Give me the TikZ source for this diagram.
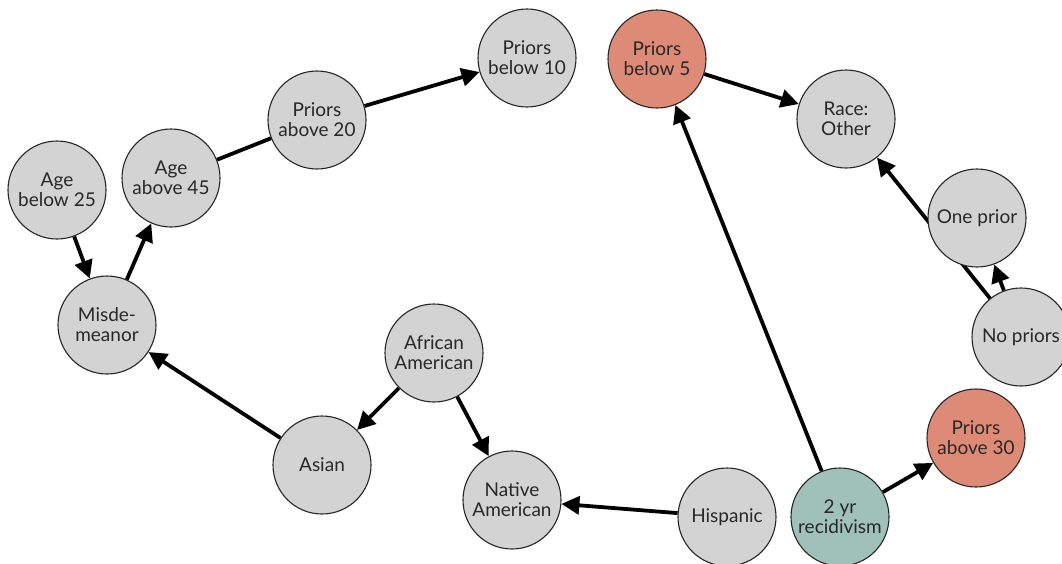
\documentclass[tikz,border=0pt]{standalone}
\usepackage{fontspec}
\setmainfont{Lato}
\usetikzlibrary{arrows.meta,backgrounds}
\definecolor{nodegray}{RGB}{211,211,211}
\definecolor{salmon}{RGB}{221,138,119}
\definecolor{tealish}{RGB}{160,193,186}
\definecolor{txt}{RGB}{40,40,40}
\begin{document}
\begin{tikzpicture}[x=1pt,y=1pt,
  var/.style={circle,draw=black!85,line width=1.1pt,fill=nodegray,minimum size=98pt,inner sep=0pt,
    align=center,text=txt,font=\fontsize{19}{20}\selectfont},
  hot/.style={var,fill=salmon},
  target/.style={var,fill=tealish},
  edge/.style={line width=3.8pt,black},
  arr/.style={edge,-{Triangle[length=18pt,width=18pt]}}]
\useasboundingbox (0,0) rectangle (1062,-563);
\clip (0,0) rectangle (1062,-563);
\node[var] (p10) at (527,-58) {Priors\\below 10};
\node[hot] (p5) at (657,-59) {Priors\\below 5};
\node[var] (p20) at (317,-120) {Priors\\above 20};
\node[var] (ro) at (846,-119) {Race:\\Other};
\node[var] (a45) at (171,-178) {Age\\above 45};
\node[var] (a25) at (57,-190) {Age\\below 25};
\node[var] (op) at (977,-218) {One prior};
\node[var] (mis) at (107,-325) {Misde-\\meanor};
\node[var] (aa) at (434,-353) {African\\American};
\node[var] (np) at (1021,-337) {No priors};
\node[var] (as) at (322,-465) {Asian};
\node[hot] (p30) at (976,-438) {Priors\\above 30};
\node[var] (na) at (512,-500) {Native\\American};
\node[var] (his) at (727,-517) {Hispanic};
\node[target] (rec) at (840,-517) {2 yr\\recidivism};
\begin{scope}[on background layer]
\draw[arr] (a25) -- (mis);
\draw[arr] (mis) -- (a45);
\draw[edge] (a45) -- (p20);
\draw[arr] (p20) -- (p10);
\draw[arr] (p5) -- (ro);
\draw[arr] (rec) -- (p5);
\draw[arr] (np.center) -- (ro);
\draw[arr] (np) -- (op);
\draw[arr] (rec) -- (p30);
\draw[arr] (his) -- (na);
\draw[arr] (aa) -- (na);
\draw[arr] (aa) -- (as);
\draw[arr] (as) -- (mis);
\end{scope}
\end{tikzpicture}
\end{document}
